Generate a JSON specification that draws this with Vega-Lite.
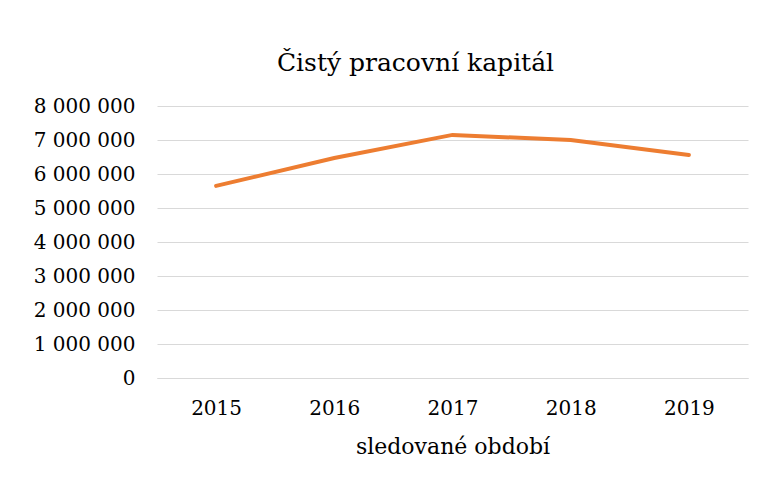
{
  "$schema": "https://vega.github.io/schema/vega-lite/v6.json",
  "width": 591,
  "height": 272,
  "autosize": {"type": "none"},
  "padding": {"left": 157, "top": 106, "right": 15, "bottom": 111},
  "background": "white",
  "title": {
    "text": "Čistý pracovní kapitál",
    "font": "DejaVu Serif",
    "fontSize": 25,
    "fontWeight": "normal",
    "color": "#000000",
    "anchor": "middle",
    "offset": 20,
    "dx": -37
  },
  "data": {
    "values": [
      {"rok": "2015", "hodnota": 5650000},
      {"rok": "2016", "hodnota": 6470000},
      {"rok": "2017", "hodnota": 7150000},
      {"rok": "2018", "hodnota": 7000000},
      {"rok": "2019", "hodnota": 6560000}
    ]
  },
  "mark": {"type": "line", "color": "#ED7D31", "strokeWidth": 4, "strokeCap": "round"},
  "encoding": {
    "x": {
      "field": "rok",
      "type": "ordinal",
      "scale": {"paddingInner": 0, "paddingOuter": 0.5},
      "axis": {
        "title": "sledované období",
        "titleFontSize": 22,
        "labelAngle": 0,
        "ticks": false,
        "domain": true,
        "domainColor": "#d9d9d9",
        "labelPadding": 20,
        "titlePadding": 18,
        "grid": false
      }
    },
    "y": {
      "field": "hodnota",
      "type": "quantitative",
      "scale": {"domain": [0, 8000000], "nice": false},
      "axis": {
        "title": null,
        "values": [0, 1000000, 2000000, 3000000, 4000000, 5000000, 6000000, 7000000, 8000000],
        "format": ",d",
        "ticks": false,
        "domain": false,
        "labelPadding": 22,
        "grid": true,
        "gridColor": "#d9d9d9"
      }
    }
  },
  "config": {
    "locale": {"number": {"decimal": ",", "thousands": " ", "grouping": [3], "currency": ["", " Kč"]}},
    "view": {"stroke": null},
    "axis": {
      "labelFont": "DejaVu Serif",
      "labelFontSize": 20,
      "labelColor": "#000000",
      "titleFont": "DejaVu Serif",
      "titleFontSize": 20,
      "titleFontWeight": "normal",
      "titleColor": "#000000"
    }
  }
}
